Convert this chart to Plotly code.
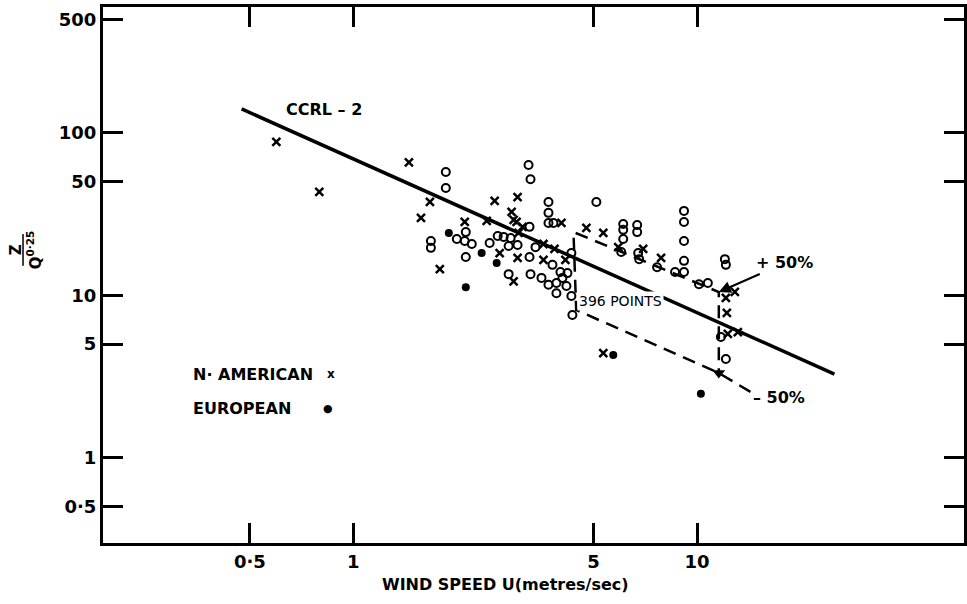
import numpy as np
import plotly.graph_objects as go

# ---------------- data ----------------
x_tick_vals = [0.5, 1, 5, 10]
x_tick_text = ["0·5", "1", "5", "10"]
y_tick_vals = [0.5, 1, 5, 10, 50, 100, 500]
y_tick_text = ["0·5", "1", "5", "10", "50", "100", "500"]

# N. American observations (x markers)
n_american_u = [0.597, 0.796, 1.451, 1.670, 1.573, 1.785, 2.109, 2.443, 2.577, 3.005,
                2.887, 2.926, 2.985, 3.025, 3.107, 2.665, 3.005, 2.926, 3.574, 3.847,
                3.574, 4.140, 4.031, 4.764, 5.336, 5.898, 6.969, 7.858, 12.13, 12.88,
                12.21, 12.29, 13.14, 5.336]
n_american_z = [88.0, 43.3, 65.8, 37.6, 30.0, 14.5, 28.3, 28.7, 38.1, 40.3,
                32.6, 29.1, 28.3, 24.2, 26.4, 18.2, 17.0, 12.2, 20.7, 19.3,
                16.5, 16.5, 27.9, 26.0, 24.2, 19.8, 19.3, 17.0, 9.63, 10.5,
                7.78, 5.78, 5.94, 4.41]

# European observations (open circles)
european_u = [1.858, 1.858, 1.681, 1.681, 2.000, 2.109, 2.211, 2.124, 2.124, 2.492,
              2.630, 2.737, 2.868, 2.830, 3.005, 2.830, 3.234, 3.277, 3.255, 3.388,
              3.255, 3.277, 3.527, 3.696, 3.696, 3.696, 3.821, 3.796, 4.004, 4.196,
              4.058, 3.696, 3.898, 4.168, 3.898, 4.309, 4.338, 4.309, 5.093, 6.098,
              6.098, 6.098, 6.017, 6.696, 6.696, 6.741, 6.786, 7.651, 8.630, 9.163,
              9.163, 9.163, 9.163, 9.163, 10.13, 10.75, 12.05, 12.13, 11.73, 12.13]
european_z = [57.5, 45.8, 21.6, 19.6, 22.2, 21.6, 20.7, 24.5, 17.2, 21.0,
              23.2, 22.9, 22.5, 20.1, 20.4, 13.5, 63.5, 51.9, 26.4, 19.8,
              17.2, 13.5, 12.8, 37.6, 32.2, 27.9, 27.9, 15.4, 13.9, 13.7,
              12.8, 11.6, 11.9, 11.4, 10.3, 9.90, 7.56, 18.2, 37.6, 27.5,
              25.3, 22.2, 18.5, 27.1, 24.5, 18.2, 16.7, 14.9, 13.9, 13.9,
              33.1, 28.3, 21.6, 16.3, 11.7, 11.9, 16.7, 15.4, 5.53, 4.05]

# European observations drawn as filled dots
european_filled_u = [1.896, 2.362, 2.612, 2.124, 5.705, 10.26]
european_filled_z = [24.2, 18.2, 15.8, 11.2, 4.29, 2.47]

# CCRL-2 line
ccrl2_u = [0.473, 25.1]
ccrl2_z = [140.6, 3.27]

# +/-50 % envelope around the 396 points
band_u = [14.3, 11.57, 4.45, 4.37, 11.57, 11.57]
band_z = [2.54, 3.32, 8.12, 24.5, 10.48, 3.32]

# ---------------- figure ----------------
FONT = "DejaVu Sans"
L, R, T, B = 103, 0, 7, 61
W, H = 967, 604
PW, PH = W - L - R, H - T - B
X_RANGE = [-0.7284, 1.7767]
Y_RANGE = [-0.526, 2.776]


def pxx(x):
    return (x - L) / PW


def pxy(y):
    return (H - B - y) / PH


fig = go.Figure()

fig.add_trace(go.Scatter(x=ccrl2_u, y=ccrl2_z, mode="lines",
                         line=dict(color="black", width=3.5),
                         showlegend=False, hoverinfo="skip"))
fig.add_trace(go.Scatter(x=band_u, y=band_z, mode="lines",
                         line=dict(color="black", width=2.5, dash="13px,8px"),
                         showlegend=False, hoverinfo="skip"))
# arrow head at the lower-right corner of the envelope
fig.add_trace(go.Scatter(x=band_u[-1:], y=band_z[-1:], mode="markers",
                         marker=dict(symbol="triangle-down", size=11, color="black"),
                         showlegend=False, hoverinfo="skip"))
fig.add_trace(go.Scatter(x=n_american_u, y=n_american_z, mode="markers",
                         marker=dict(symbol="x-thin", size=8,
                                     line=dict(color="black", width=2.5)),
                         name="N· AMERICAN", showlegend=False))
fig.add_trace(go.Scatter(x=european_u, y=european_z, mode="markers",
                         marker=dict(symbol="circle-open", size=8, color="black",
                                     line=dict(color="black", width=2)),
                         name="EUROPEAN", showlegend=False))
fig.add_trace(go.Scatter(x=european_filled_u, y=european_filled_z, mode="markers",
                         marker=dict(symbol="circle", size=8, color="black"),
                         name="EUROPEAN", showlegend=False))

bold = dict(family=FONT, size=16, color="black", weight="bold")
tickbold = dict(family=FONT, size=18, color="black", weight="bold")

fig.update_layout(
    width=W, height=H,
    margin=dict(l=L, r=R, t=T, b=B, pad=0),
    paper_bgcolor="white", plot_bgcolor="white",
    showlegend=False,
    font=dict(family=FONT, color="black"),
    xaxis=dict(type="log", range=X_RANGE,
               tickvals=x_tick_vals, ticktext=x_tick_text,
               ticks="inside", ticklen=20, tickwidth=3, tickcolor="black",
               showline=True, linewidth=3, linecolor="black", mirror="ticks",
               showgrid=False, zeroline=False, tickfont=tickbold),
    yaxis=dict(type="log", range=Y_RANGE,
               tickvals=y_tick_vals, ticktext=y_tick_text,
               ticks="inside", ticklen=20, tickwidth=3, tickcolor="black",
               showline=True, linewidth=3, linecolor="black", mirror="ticks",
               showgrid=False, zeroline=False, tickfont=tickbold),
)

ann = []
# axis titles
ann.append(dict(text="WIND SPEED U(metres/sec)", xref="paper", yref="paper",
                x=pxx(507), y=pxy(584), xanchor="center", yanchor="middle",
                showarrow=False, font=bold))
ann.append(dict(text="<u>&nbsp;&nbsp;Z&nbsp;&nbsp;</u><br>Q<sup>0·25</sup>",
                xref="paper", yref="paper", x=pxx(26), y=pxy(250),
                xanchor="center", yanchor="middle", textangle=-90,
                showarrow=False, font=dict(family=FONT, size=15, weight="bold")))
# labels
ann.append(dict(text="CCRL – 2", xref="paper", yref="paper", x=pxx(325), y=pxy(110),
                xanchor="center", yanchor="middle", showarrow=False, font=bold))
ann.append(dict(text="396 POINTS", xref="paper", yref="paper", x=pxx(622), y=pxy(301),
                xanchor="center", yanchor="middle", showarrow=False,
                bgcolor="white", borderpad=1,
                font=dict(family=FONT, size=14, color="black")))
ann.append(dict(text="+ 50%", x=np.log10(band_u[4]), y=np.log10(band_z[4]),
                xref="x", yref="y", ax=66, ay=-29, showarrow=True,
                arrowhead=2, arrowsize=1.2, arrowwidth=2, arrowcolor="black",
                font=dict(family=FONT, size=16, color="black", weight="bold")))
ann.append(dict(text="– 50%", xref="paper", yref="paper", x=pxx(753), y=pxy(397),
                xanchor="left", yanchor="middle", showarrow=False,
                font=dict(family=FONT, size=16, color="black", weight="bold")))
# key
ann.append(dict(text="N· AMERICAN", xref="paper", yref="paper", x=pxx(191), y=pxy(374),
                xanchor="left", yanchor="middle", showarrow=False, font=bold))
ann.append(dict(text="x", xref="paper", yref="paper", x=pxx(332), y=pxy(374),
                xanchor="center", yanchor="middle", showarrow=False,
                font=dict(family=FONT, size=12, weight="bold")))
ann.append(dict(text="EUROPEAN", xref="paper", yref="paper", x=pxx(191), y=pxy(408),
                xanchor="left", yanchor="middle", showarrow=False, font=bold))
ann.append(dict(text="●", xref="paper", yref="paper", x=pxx(329), y=pxy(408),
                xanchor="center", yanchor="middle", showarrow=False,
                font=dict(family=FONT, size=11)))
fig.update_layout(annotations=ann)

fig.write_html("out.html")
